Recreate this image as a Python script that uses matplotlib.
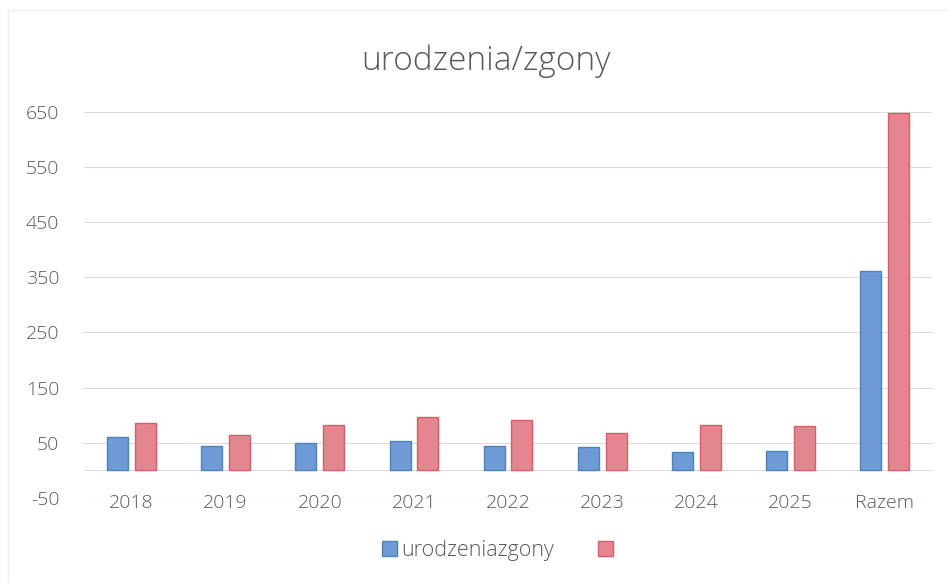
import numpy as np
import matplotlib
matplotlib.use("Agg")
import matplotlib.pyplot as plt
from matplotlib.lines import Line2D

# values
categories = ["2018", "2019", "2020", "2021", "2022", "2023", "2024", "2025", "Razem"]
blue_vals = [61, 44, 50, 53, 44, 42, 33, 35, 361]
red_vals = [85, 64, 83, 96, 91, 68, 82, 81, 648]
y_ticks = [-50, 50, 150, 250, 350, 450, 550, 650]

plt.rcParams["font.family"] = ["Open Sans", "DejaVu Sans"]
plt.rcParams["axes.unicode_minus"] = False

fig = plt.figure(figsize=(9.48, 5.83), dpi=100)
ax = fig.add_axes([0.089, 0.146, 0.894, 0.662])

x = np.arange(len(categories))
w = 0.223
off = 0.147
b1 = ax.bar(x - off, blue_vals, w, color="#6E9BD5", edgecolor="#4F81BD", linewidth=1, zorder=3)
b2 = ax.bar(x + off, red_vals, w, color="#E3868F", edgecolor="#D4606C", linewidth=1, zorder=3)

ax.set_xlim(-0.5, len(categories) - 0.5)
ax.set_ylim(-50, 650)
ax.set_yticks(y_ticks)
ax.yaxis.grid(True, color="#dcdcdc", linewidth=0.8)
ax.set_axisbelow(True)

for s in ["top", "right", "left"]:
    ax.spines[s].set_visible(False)
ax.spines["bottom"].set_position(("data", 0))
ax.spines["bottom"].set_color("#dcdcdc")

ax.set_xticks(x)
ax.set_xticklabels(categories)
ax.tick_params(axis="x", length=0, pad=17, labelsize=14, labelcolor="#595959")
ax.tick_params(axis="y", length=0, pad=18, labelsize=14, labelcolor="#595959")
for lbl in ax.get_xticklabels() + ax.get_yticklabels():
    lbl.set_fontweight("light")

fig.text(0.513, 0.895, "urodzenia/zgony", ha="center", va="center", fontsize=24,
         color="#595959", fontweight="light")

fig.legend([b1, b2], ["urodzeniazgony", " "], loc="center", bbox_to_anchor=(0.530, 0.056),
           ncol=2, frameon=False, prop={"size": 15.5, "weight": "light"}, labelcolor="#595959",
           handlelength=0.7, handleheight=0.7, handletextpad=0.2, columnspacing=2.0)

# faint frame of the scanned chart (top and left edges)
fig.add_artist(Line2D([0.008, 1.0], [0.983, 0.983], transform=fig.transFigure,
                      color="#f0f0f0", linewidth=1))
fig.add_artist(Line2D([0.008, 0.008], [0.0, 0.983], transform=fig.transFigure,
                      color="#f0f0f0", linewidth=1))

fig.savefig("out.png", dpi=100)
